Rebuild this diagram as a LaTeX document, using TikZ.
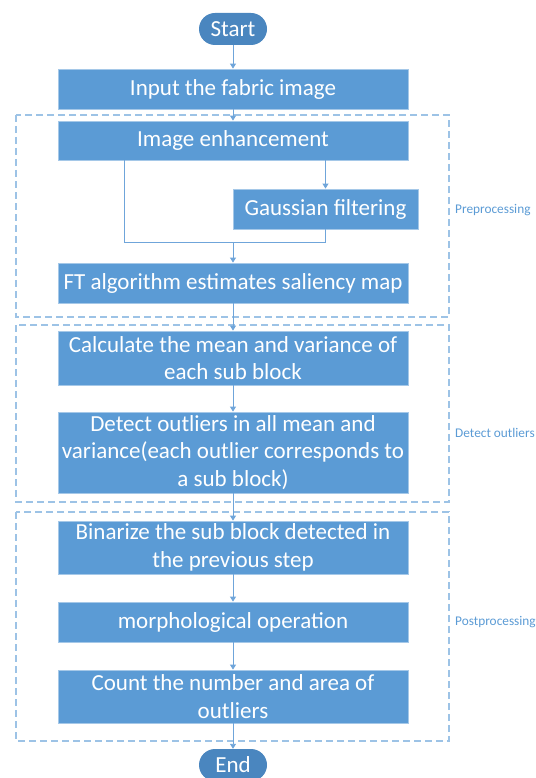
\documentclass[tikz,border=0pt]{standalone}
\usepackage{fontspec}
\setmainfont{Carlito}
\usepackage{tikz}
\usetikzlibrary{shapes,arrows.meta,calc,positioning,backgrounds}

\definecolor{boxblue}{HTML}{5B9BD5}
\definecolor{termblue}{HTML}{4A86BF}
\definecolor{linkblue}{HTML}{6FA5DA}
\definecolor{frameblue}{HTML}{9DC3E6}

\begin{document}
\begin{tikzpicture}[x=1pt,y=-1pt,inner sep=0pt,
                    >={Triangle[length=5pt,width=6pt]},
                    every node/.style={font=\fontsize{23}{27.5}\selectfont,text=white,align=center},
                    procbox/.style={rectangle,fill=boxblue,draw=boxblue!55!white,line width=0.8pt,minimum width=350pt},
                    termbox/.style={rectangle,rounded corners=16pt,fill=termblue,minimum width=68pt,minimum height=32pt},
                    link/.style={draw=linkblue,line width=0.9pt},
                    stage/.style={draw=frameblue,line width=1.3pt,dash pattern=on 7pt off 4pt},
                    stagelabel/.style={anchor=west,text=boxblue,font=\fontsize{13.3}{16}\selectfont}]
    \useasboundingbox (0,0) rectangle (535,778);

    \node at (233, 29.0) (start)   [termbox]                       {Start};
    \node at (233, 89.0) (input)   [procbox,minimum height=40pt]   {Input the fabric image}
        edge [link,<-] (start);
    \node at (233,140.5) (enhance) [procbox,minimum height=39pt]   {Image enhancement}
        edge [link,<-] (input);
    \node at (325.5,209) (gauss)   [procbox,minimum width=185pt,minimum height=40pt] {Gaussian filtering};
    \node at (233,283.0) (ft)      [procbox,minimum height=40pt]   {FT algorithm estimates saliency map};
    \node at (233,358.0) (calc)    [procbox,minimum height=54pt]   {Calculate the mean and variance of\\each sub block}
        edge [link,<-] (ft);
    \node at (233,452.5) (detect)  [procbox,minimum height=81pt]   {Detect outliers in all mean and\\variance(each outlier corresponds to\\a sub block)}
        edge [link,<-] (calc);
    \node at (233,547.5) (binar)   [procbox,minimum height=53pt]   {Binarize the sub block detected in\\the previous step}
        edge [link,<-] (detect);
    \node at (233,622.0) (morph)   [procbox,minimum height=40pt]   {morphological operation}
        edge [link,<-] (binar);
    \node at (233,696.5) (count)   [procbox,minimum height=53pt]   {Count the number and area of\\outliers}
        edge [link,<-] (morph);
    \node at (233,765.0) (end)     [termbox]                       {End}
        edge [link,<-] (count);

    % bypass round the filter
    \coordinate (bypass) at (124,242);
    \coordinate (merge)  at (233,242);
    \draw [link,->] (gauss.north |- enhance.south) -- (gauss.north);
    \draw [link] (enhance.south -| bypass) -- (bypass) -- (merge);
    \draw [link] (gauss.south) |- (merge);
    \draw [link,->] (merge) -- (ft);

    \begin{scope}[on background layer]
        \draw [stage] (16,115) rectangle (449,317);
        \draw [stage] (16,325) rectangle (449,502);
        \draw [stage] (16,512) rectangle (449,741);
    \end{scope}
    \node at (455,210) (prelabel)  [stagelabel] {Preprocessing};
    \node at (455,433) (detlabel)  [stagelabel] {Detect outliers};
    \node at (455,622) (postlabel) [stagelabel] {Postprocessing};
\end{tikzpicture}
\end{document}
